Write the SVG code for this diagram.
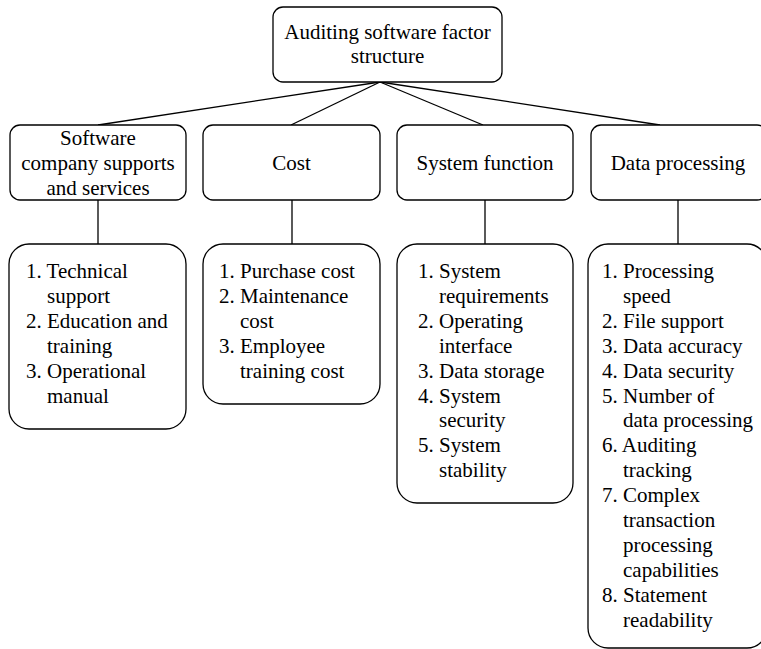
<svg xmlns="http://www.w3.org/2000/svg" width="761" height="649" viewBox="0 0 761 649">
  <style>
    .box { fill: #ffffff; stroke: #000000; stroke-width: 1.3; }
    .link { stroke: #000000; stroke-width: 1.3; fill: none; }
    text { font-family: "Liberation Serif", "Times New Roman", serif; font-size: 21px; fill: #000000; }
    .c { text-anchor: middle; }
  </style>
  <rect width="761" height="649" fill="#ffffff"/>

  <!-- connectors -->
  <g id="connectors">
    <line class="link" x1="380" y1="82" x2="98" y2="125"/>
    <line class="link" x1="380" y1="82" x2="291" y2="125"/>
    <line class="link" x1="380" y1="82" x2="483" y2="125"/>
    <line class="link" x1="380" y1="82" x2="660" y2="125"/>
    <line class="link" x1="98" y1="200" x2="98" y2="244"/>
    <line class="link" x1="292" y1="200" x2="292" y2="244"/>
    <line class="link" x1="485" y1="200" x2="485" y2="244"/>
    <line class="link" x1="678" y1="200" x2="678" y2="244"/>
  </g>

  <!-- root -->
  <g id="root">
    <rect class="box" x="273" y="7" width="229" height="75" rx="10"/>
    <text class="c" x="387.5" y="39">Auditing software factor</text>
    <text class="c" x="387.5" y="63">structure</text>
  </g>

  <!-- factor categories -->
  <g id="support">
    <rect class="box" x="10" y="125" width="176" height="75" rx="10"/>
    <text class="c" x="98" y="145">Software</text>
    <text class="c" x="98" y="170">company supports</text>
    <text class="c" x="98" y="195">and services</text>
  </g>
  <g id="cost">
    <rect class="box" x="203" y="125" width="177" height="75" rx="10"/>
    <text class="c" x="291.5" y="170">Cost</text>
  </g>
  <g id="function">
    <rect class="box" x="397" y="125" width="176" height="75" rx="10"/>
    <text class="c" x="485" y="170">System function</text>
  </g>
  <g id="processing">
    <rect class="box" x="591" y="125" width="176" height="75" rx="10"/>
    <text class="c" x="678" y="170">Data processing</text>
  </g>

  <!-- factor items -->
  <g id="support-items">
    <rect class="box" x="9" y="244" width="177" height="185" rx="20"/>
    <text x="26" y="278">1. Technical</text>
    <text x="47" y="302.9">support</text>
    <text x="26" y="327.8">2. Education and</text>
    <text x="47" y="352.7">training</text>
    <text x="26" y="377.6">3. Operational</text>
    <text x="47" y="402.5">manual</text>
  </g>
  <g id="cost-items">
    <rect class="box" x="203" y="244" width="177" height="160" rx="20"/>
    <text x="219" y="278">1. Purchase cost</text>
    <text x="219" y="302.9">2. Maintenance</text>
    <text x="240" y="327.8">cost</text>
    <text x="219" y="352.7">3. Employee</text>
    <text x="240" y="377.6">training cost</text>
  </g>
  <g id="function-items">
    <rect class="box" x="397" y="244" width="176" height="259" rx="20"/>
    <text x="418" y="278">1. System</text>
    <text x="439" y="302.9">requirements</text>
    <text x="418" y="327.8">2. Operating</text>
    <text x="439" y="352.7">interface</text>
    <text x="418" y="377.6">3. Data storage</text>
    <text x="418" y="402.5">4. System</text>
    <text x="439" y="427.4">security</text>
    <text x="418" y="452.3">5. System</text>
    <text x="439" y="477.2">stability</text>
  </g>
  <g id="processing-items">
    <rect class="box" x="588" y="244" width="179" height="404" rx="20"/>
    <text x="602" y="278">1. Processing</text>
    <text x="623" y="302.9">speed</text>
    <text x="602" y="327.8">2. File support</text>
    <text x="602" y="352.7">3. Data accuracy</text>
    <text x="602" y="377.6">4. Data security</text>
    <text x="602" y="402.5">5. Number of</text>
    <text x="623" y="427.4">data processing</text>
    <text x="602" y="452.3">6. Auditing</text>
    <text x="623" y="477.2">tracking</text>
    <text x="602" y="502.1">7. Complex</text>
    <text x="623" y="527">transaction</text>
    <text x="623" y="551.9">processing</text>
    <text x="623" y="576.8">capabilities</text>
    <text x="602" y="601.7">8. Statement</text>
    <text x="623" y="626.6">readability</text>
  </g>
</svg>
